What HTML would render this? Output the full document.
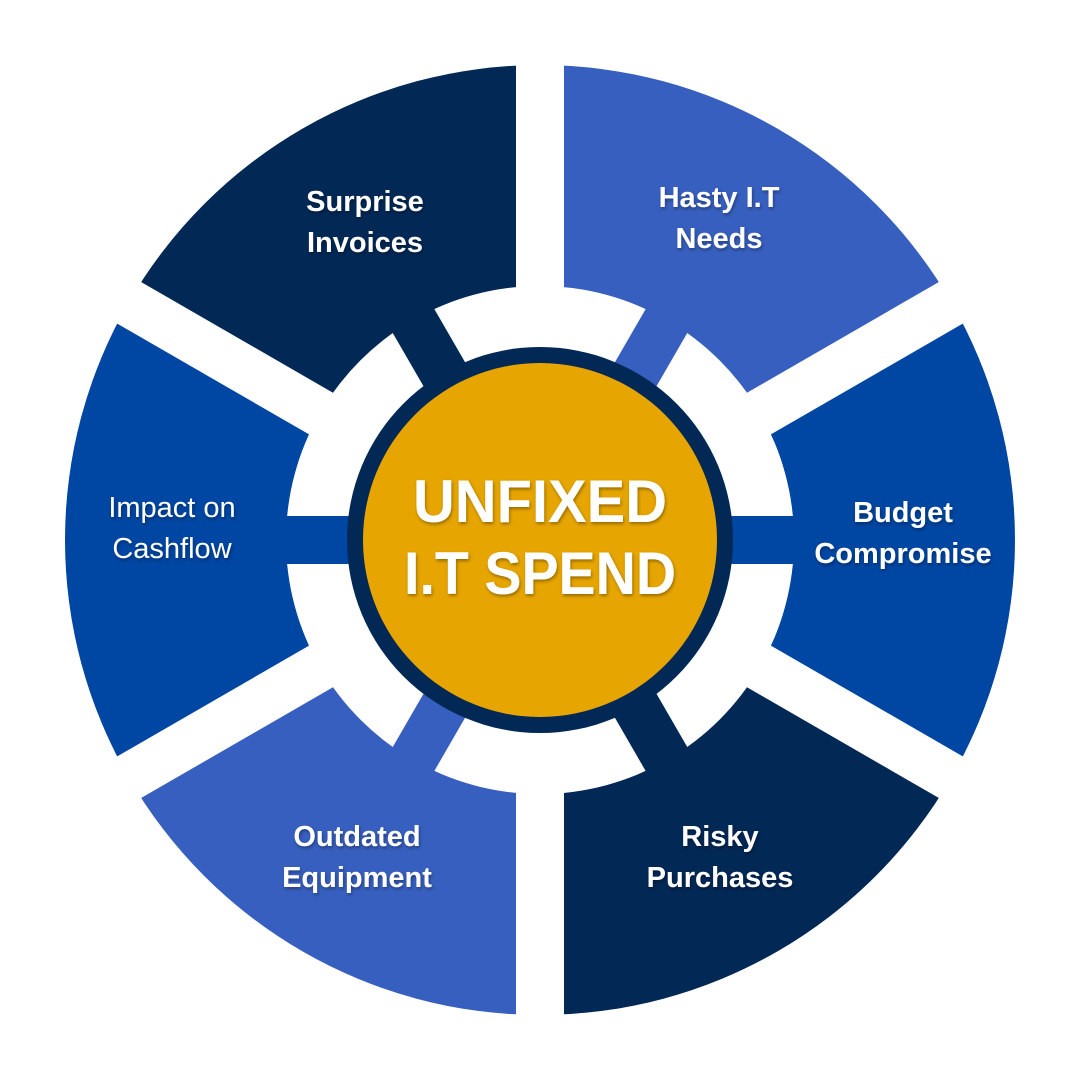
<!DOCTYPE html>
<html><head><meta charset="utf-8"><style>
html,body{margin:0;padding:0;background:#fff;}
svg text{font-family:"Liberation Sans",sans-serif;fill:#fff;text-anchor:middle;}
</style></head><body>
<svg width="1080" height="1080" viewBox="0 0 1080 1080" xmlns="http://www.w3.org/2000/svg">
<defs>
<filter id="sh" x="-20%" y="-20%" width="140%" height="140%"><feDropShadow dx="1" dy="2" stdDeviation="1.5" flood-color="#000" flood-opacity="0.35"/></filter>
</defs>
<g id="sectors"></g>
<script>
(function(){
var cx=540,cy=540,R=475,r=254;
var cols=[["#0046A3",0],["#375FBF",60],["#022856",120],["#0046A3",180],["#375FBF",240],["#022856",300]];
var ns="http://www.w3.org/2000/svg",g=document.getElementById("sectors");
function p(rad,a){a=a*Math.PI/180;return (cx+rad*Math.cos(a)).toFixed(2)+","+(cy-rad*Math.sin(a)).toFixed(2);}
cols.forEach(function(c){
 var a1=c[1]-30,a2=c[1]+30;
 var d="M"+p(r,a1)+" L"+p(R,a1)+" A"+R+","+R+" 0 0 0 "+p(R,a2)+" L"+p(r,a2)+" A"+r+","+r+" 0 0 1 "+p(r,a1)+"Z";
 var e=document.createElementNS(ns,"path");e.setAttribute("d",d);e.setAttribute("fill",c[0]);g.appendChild(e);
});
for(var k=0;k<6;k++){var a=30+60*k;var l=document.createElementNS(ns,"line");
 var s=p(200,a).split(","),t=p(490,a).split(",");
 l.setAttribute("x1",s[0]);l.setAttribute("y1",s[1]);l.setAttribute("x2",t[0]);l.setAttribute("y2",t[1]);
 l.setAttribute("stroke","#fff");l.setAttribute("stroke-width","48");g.appendChild(l);}
cols.forEach(function(c){var l=document.createElementNS(ns,"line");
 var s=p(180,c[1]).split(","),t=p(258,c[1]).split(",");
 l.setAttribute("x1",s[0]);l.setAttribute("y1",s[1]);l.setAttribute("x2",t[0]);l.setAttribute("y2",t[1]);
 l.setAttribute("stroke",c[0]);l.setAttribute("stroke-width","48");g.appendChild(l);});
})();
</script>
<circle cx="540" cy="540" r="193" fill="#022856"/>
<circle cx="540" cy="540" r="177" fill="#E6A500"/>
<g filter="url(#sh)">
<text x="540" y="522" font-size="60" font-weight="bold" textLength="254" lengthAdjust="spacingAndGlyphs">UNFIXED</text>
<text x="540" y="594" font-size="60" font-weight="bold" textLength="272" lengthAdjust="spacingAndGlyphs">I.T SPEND</text>
<g font-size="29" font-weight="bold">
<text x="365" y="211">Surprise</text><text x="365" y="252">Invoices</text>
<text x="719" y="207">Hasty I.T</text><text x="719" y="248">Needs</text>
<text x="903" y="522">Budget</text><text x="903" y="563">Compromise</text>
<text x="720" y="846">Risky</text><text x="720" y="887">Purchases</text>
<text x="357" y="846">Outdated</text><text x="357" y="887">Equipment</text>
</g>
<g font-size="29">
<text x="172" y="517">Impact on</text><text x="172" y="558">Cashflow</text>
</g>
</g>
</svg>
</body></html>
